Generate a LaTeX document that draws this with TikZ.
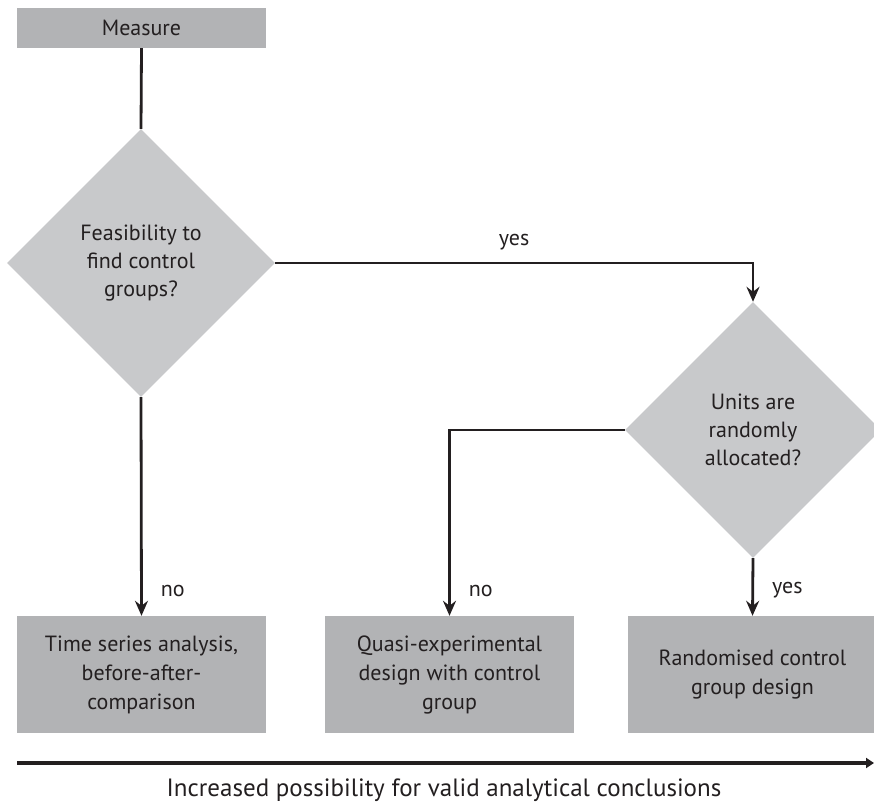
\documentclass[tikz,border=0pt]{standalone}
\usepackage{fontspec}
\setmainfont{PT Sans}
\usepackage{tikz}
\usetikzlibrary{arrows.meta,calc,positioning,shapes.geometric}
\definecolor{boxgray}{HTML}{B2B3B5}
\definecolor{diagray}{HTML}{C8C9CB}
\definecolor{inkblack}{HTML}{231F20}

\begin{document}
\begin{tikzpicture}[x=1pt,y=-1pt,>={Stealth[length=15pt,width=13pt,inset=5pt]},
  every node/.style={text=inkblack},
  boxnode/.style={rectangle,fill=boxgray,inner sep=0pt,minimum width=249pt,
    minimum height=117pt,align=center,font=\fontsize{22}{29}\selectfont},
  decision/.style={diamond,fill=diagray,inner sep=0pt,align=center,
    font=\fontsize{22}{28}\selectfont},
  flow/.style={draw=inkblack,line width=2.8pt},
  lbl/.style={font=\fontsize{22}{26}\selectfont,inner sep=0pt}]
\useasboundingbox (0,0) rectangle (874,805);

% --- start and the two questions ---
\node[boxnode,minimum height=40pt] (measure) at (141.5,28) {Measure};
\node[decision,minimum width=268pt,minimum height=268pt] (feas) at (141,263)
  {Feasibility to\\find control\\groups?};
\node[decision,minimum width=256pt,minimum height=256pt] (units) at (753,430)
  {Units are\\randomly\\allocated?};

% --- the three designs ---
\node[boxnode] (ts) at (141.5,674.5) {Time series analysis,\\before-after-\\comparison};
\node[boxnode] (quasi) at (449.5,674.5) {Quasi-experimental\\design with control\\group};
\node[boxnode] (rand) at (752.5,674.5) {Randomised control\\group design};

% --- connectors ---
\draw[flow] (measure.south) -- (feas.north);
\draw[flow,->] (feas.east) -| (units.north)
  node[lbl,pos=0.25,above=12pt] (lyes1) {yes};
\draw[flow,->] (feas.south) -- (ts.north)
  node[lbl,pos=0.886,anchor=west,xshift=18pt] (lno1) {no};
\draw[flow,->] (units.west) -| (quasi.north)
  node[lbl,pos=0.932,anchor=west,xshift=18pt] (lno2) {no};
\draw[flow,->] (units.south) -- (rand.north)
  node[lbl,pos=0.55,anchor=west,xshift=18pt] (lyes2) {yes};

% --- scale along the bottom ---
\coordinate (axisL) at (17,763);
\coordinate (axisR) at (874,763);
\draw[draw=inkblack,line width=4.5pt,-{Triangle[length=8pt,width=10pt]}] (axisL) -- (axisR);
\node[font=\fontsize{25}{30}\selectfont] (scale) at (444,790)
  {Increased possibility for valid analytical conclusions};

\end{tikzpicture}
\end{document}
